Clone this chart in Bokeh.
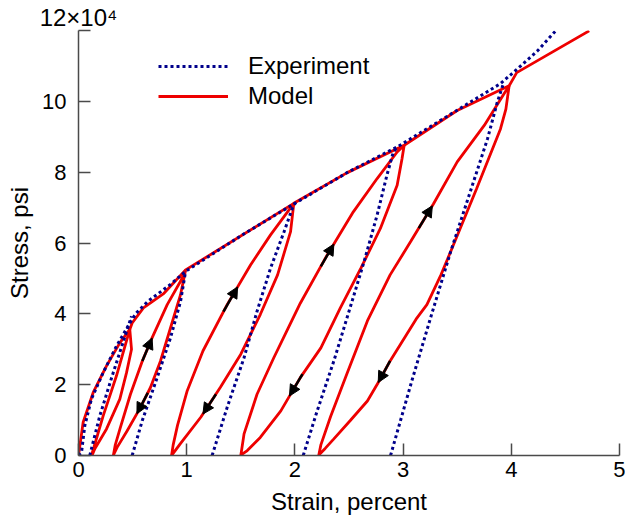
from bokeh.plotting import figure
from bokeh.models import (Range1d, Legend, LegendItem, Arrow, NormalHead, LinearAxis,
                          ColumnDataSource, FixedTicker)
from bokeh.embed import file_html
from bokeh.resources import INLINE

# ---------------- data (strain in percent, stress in 10^4 psi) ----------------
# Experiment: monotonic envelope
exp_env_strain = [0.0, 0.028, 0.058, 0.12, 0.228, 0.351, 0.474, 0.533, 0.64, 0.85, 0.99,
                  1.52, 2.0, 2.49, 2.95, 3.5, 3.9, 4.05, 4.24, 4.41]
exp_env_stress = [0.0, 0.09, 0.84, 1.6, 2.34, 3.09, 3.74, 4.02, 4.35, 4.83, 5.2,
                  6.24, 7.12, 8.0, 8.72, 9.75, 10.5, 10.9, 11.42, 11.99]

# Experiment: unloading / reloading lines
exp_cycle_strain = [
    [0.104, 0.197, 0.321, 0.49],
    [0.496, 0.589, 0.727, 0.85, 0.943, 0.99],
    [1.235, 1.374, 1.53, 1.65, 1.775, 1.90, 1.975, 2.0],
    [2.077, 2.206, 2.36, 2.51, 2.64, 2.76, 2.85, 2.91, 2.95],
    [2.884, 3.08, 3.26, 3.44, 3.62, 3.78, 3.87, 3.93],
]
exp_cycle_stress = [
    [0.0, 1.12, 2.34, 3.93],
    [0.0, 0.98, 2.2, 3.32, 4.35, 5.2],
    [0.0, 1.36, 2.76, 4.07, 5.29, 6.32, 6.97, 7.12],
    [0.0, 1.26, 2.67, 4.17, 5.48, 6.79, 7.91, 8.57, 8.72],
    [0.0, 2.1, 3.95, 5.76, 7.44, 8.94, 9.97, 10.53],
]

# Model: envelope
mod_env_strain = [0.0, 0.043, 0.136, 0.259, 0.382, 0.474, 0.496, 0.60, 0.79, 0.99,
                  1.99, 2.48, 3.01, 3.5, 3.98, 4.05, 4.72]
mod_env_stress = [0.0, 0.94, 1.78, 2.53, 3.18, 3.56, 3.74, 4.17, 4.58, 5.24,
                  7.12, 7.98, 8.76, 9.74, 10.44, 10.81, 11.99]

# Model: hysteresis loops (unload branch then reload branch)
mod_loop_strain = [
    [0.474, 0.49, 0.444, 0.382, 0.259, 0.151, 0.13, 0.12, 0.228, 0.351, 0.474],
    [0.99, 0.943, 0.85, 0.758, 0.665, 0.573, 0.45, 0.357, 0.33, 0.322, 0.34, 0.388,
     0.48, 0.59, 0.68, 0.82, 0.943, 0.99],
    [1.99, 1.96, 1.84, 1.68, 1.50, 1.31, 1.13, 0.94, 0.88, 0.86, 0.875, 0.915, 1.005,
     1.15, 1.374, 1.59, 1.775, 1.99],
    [3.01, 2.99, 2.945, 2.79, 2.61, 2.42, 2.24, 2.05, 1.87, 1.68, 1.56, 1.51, 1.50,
     1.53, 1.65, 1.805, 1.93, 2.05, 2.30, 2.54, 2.76, 2.945, 3.01],
    [3.98, 3.95, 3.90, 3.68, 3.44, 3.35, 3.22, 3.12, 2.88, 2.78, 2.67, 2.51, 2.36,
     2.28, 2.23, 2.22, 2.24, 2.33, 2.48, 2.67, 2.88, 3.07, 3.28, 3.50, 3.75, 3.93, 3.98],
]
mod_loop_stress = [
    [3.56, 3.0, 2.34, 1.59, 0.75, 0.19, 0.04, 0.0, 1.12, 2.25, 3.56],
    [5.24, 4.54, 3.6, 2.67, 1.92, 1.36, 0.70, 0.23, 0.06, 0.0, 0.3, 0.8,
     1.73, 2.67, 3.32, 4.26, 4.92, 5.24],
    [7.12, 6.32, 5.1, 3.98, 2.86, 1.92, 1.08, 0.33, 0.08, 0.0, 0.3, 0.85, 1.83,
     2.95, 4.26, 5.38, 6.23, 7.12],
    [8.76, 8.38, 7.63, 6.41, 5.29, 4.17, 3.04, 2.2, 1.26, 0.51, 0.14, 0.03, 0.0,
     0.61, 1.73, 2.76, 3.55, 4.3, 5.67, 6.88, 7.82, 8.57, 8.76],
    [10.44, 9.78, 9.22, 7.54, 5.76, 5.1, 4.26, 3.85, 2.67, 2.11, 1.54, 0.98, 0.47,
     0.2, 0.04, 0.0, 0.3, 1.1, 2.3, 3.8, 5.1, 6.04, 7.1, 8.29, 9.32, 10.2, 10.44],
]

# Direction arrows on the model loops
arrow_x0 = [0.59, 0.64, 1.34, 1.27, 2.24, 2.07, 3.145, 2.88]
arrow_y0 = [2.67, 1.77, 4.06, 1.73, 5.34, 2.30, 6.42, 2.67]
arrow_x1 = [0.68, 0.54, 1.47, 1.15, 2.36, 1.95, 3.27, 2.77]
arrow_y1 = [3.32, 1.18, 4.76, 1.17, 5.97, 1.68, 7.05, 2.06]

x_ticks = [0, 1, 2, 3, 4, 5]
y_ticks = [0, 2, 4, 6, 8, 10, 12]
scale_label = "12×10⁴"

FONT = "Liberation Sans"
RED = "#ee0000"
NAVY = "#00008b"
AXIS = "#4a4a4a"

p = figure(width=625, height=521, output_backend="svg", toolbar_location=None,
           x_range=Range1d(0, 5), y_range=Range1d(0, 12),
           min_border_left=78, min_border_right=6, min_border_top=28, min_border_bottom=66)
p.grid.visible = False
p.outline_line_color = None

# model (red) first, experiment (dotted) on top
model_r = p.multi_line(mod_loop_strain, mod_loop_stress, line_color=RED, line_width=2.8)
p.line(mod_env_strain, mod_env_stress, line_color=RED, line_width=2.8)

exp_r = p.multi_line(exp_cycle_strain, exp_cycle_stress, line_color=NAVY, line_width=3,
                     line_dash="3 3")
p.line(exp_env_strain, exp_env_stress, line_color=NAVY, line_width=3, line_dash="3 3")

arrows = ColumnDataSource(dict(x0=arrow_x0, y0=arrow_y0, x1=arrow_x1, y1=arrow_y1))
p.add_layout(Arrow(x_start="x0", y_start="y0", x_end="x1", y_end="y1", source=arrows,
                   line_color="black", line_width=2.5,
                   end=NormalHead(size=11, fill_color="black", line_color="black", line_width=1)))

# axes
for ax in (p.xaxis[0], p.yaxis[0]):
    ax.axis_line_color = AXIS
    ax.axis_line_width = 1.5
    ax.major_tick_line_color = AXIS
    ax.major_tick_line_width = 1.5
    ax.major_tick_in = 12
    ax.major_tick_out = 0
    ax.minor_tick_line_color = None
    ax.major_label_text_font = FONT
    ax.major_label_text_font_size = "22px"
    ax.major_label_text_color = "black"
    ax.axis_label_text_font = FONT
    ax.axis_label_text_font_size = "24px"
    ax.axis_label_text_font_style = "normal"
    ax.axis_label_text_color = "black"

p.xaxis.ticker = FixedTicker(ticks=x_ticks)
p.yaxis.ticker = FixedTicker(ticks=y_ticks)
p.yaxis.major_label_overrides = {12: ""}
p.xaxis.axis_label = "Strain, percent"
p.yaxis.axis_label = "Stress, psi"
p.xaxis.major_label_standoff = 6
p.xaxis.axis_label_standoff = 8
p.yaxis.major_label_standoff = 12
p.yaxis.axis_label_standoff = 6

# scale factor of the stress axis, written above its top end
top_axis = LinearAxis(ticker=FixedTicker(ticks=[0]), major_label_overrides={0: scale_label},
                      axis_line_color=None, major_tick_line_color=None,
                      minor_tick_line_color=None, major_tick_in=0, major_tick_out=0,
                      major_label_standoff=0, major_label_text_font=FONT,
                      major_label_text_font_size="24px", major_label_text_color="black")
p.add_layout(top_axis, "above")

legend = Legend(items=[LegendItem(label="Experiment", renderers=[exp_r]),
                       LegendItem(label="Model", renderers=[model_r])],
                location=(80, 344), padding=0, margin=0, spacing=0,
                glyph_width=70, glyph_height=30, label_standoff=20,
                label_text_font=FONT, label_text_font_size="24px",
                label_text_color="black",
                border_line_color=None, background_fill_alpha=0)
p.add_layout(legend)

open("out.html", "w").write(file_html(p, INLINE))
